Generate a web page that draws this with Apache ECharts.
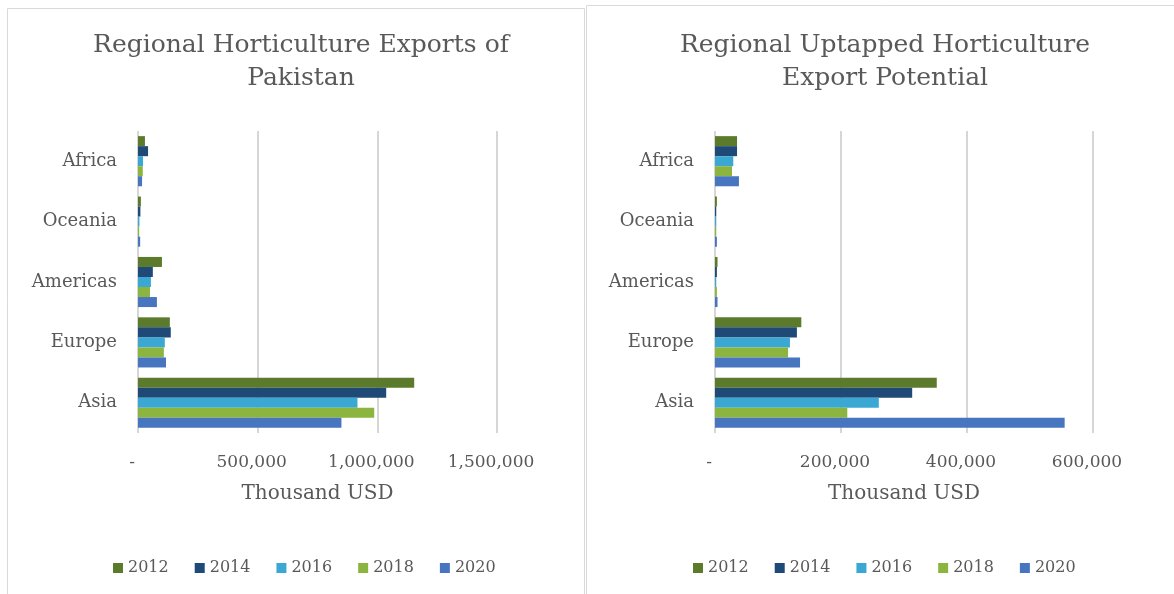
<!DOCTYPE html>
<html>
<head>
<meta charset="utf-8">
<script src="https://cdn.jsdelivr.net/npm/echarts@6/dist/echarts.min.js"></script>
<style>
html,body{margin:0;padding:0;background:#fff;}
#c{width:1174px;height:594px;}
</style>
</head>
<body>
<div id="c"></div>
<script>
// Categories (top to bottom as shown)
const categories = ['Africa', 'Oceania', 'Americas', 'Europe', 'Asia'];
const years = ['2012', '2014', '2016', '2018', '2020'];

// Left chart: Regional Horticulture Exports of Pakistan (Thousand USD)
const exports2012 = [29000, 12000, 100000, 133000, 1154000];
const exports2014 = [42000, 10000, 62000, 137000, 1037000];
const exports2016 = [21000, 6000, 54000, 112000, 917000];
const exports2018 = [20000, 5000, 50000, 108000, 987000];
const exports2020 = [17000, 9000, 79000, 117000, 850000];

// Right chart: Regional Untapped Horticulture Export Potential (Thousand USD)
const potential2012 = [35000, 3000, 4000, 137000, 352000];
const potential2014 = [35000, 2000, 3000, 130000, 313000];
const potential2016 = [29000, 2000, 2000, 119000, 260000];
const potential2018 = [27000, 2000, 3000, 116000, 210000];
const potential2020 = [38000, 3000, 4000, 135000, 555000];

const leftTicks = {min: 0, max: 1500000, interval: 500000};
const rightTicks = {min: 0, max: 600000, interval: 200000};

const colors = ['#5b7a2c', '#1f4a78', '#3aa8d2', '#8cb53f', '#4775c0'];
const FONT = '"DejaVu Serif", "Liberation Serif", serif';
const TXT = '#595959';

const leftData = [exports2012, exports2014, exports2016, exports2018, exports2020];
const rightData = [potential2012, potential2014, potential2016, potential2018, potential2020];

function fmt(v){ return v === 0 ? '-' : v.toLocaleString('en-US'); }

function xAxisFor(idx, ticks){
  return {
    type: 'value', gridIndex: idx, min: ticks.min, max: ticks.max, interval: ticks.interval,
    name: 'Thousand USD', nameLocation: 'middle', nameGap: 51,
    nameTextStyle: {fontFamily: FONT, fontSize: 20, color: TXT},
    axisLine: {show: false}, axisTick: {show: false},
    axisLabel: {formatter: fmt, fontFamily: FONT, fontSize: 17, color: TXT, margin: 21,
                padding: [0, 12, 0, 0]},
    splitLine: {show: true, lineStyle: {color: '#d6d6d6', width: 2}}
  };
}
function yAxisFor(idx){
  return {
    type: 'category', gridIndex: idx, data: categories, inverse: true,
    axisLine: {show: false}, axisTick: {show: false},
    axisLabel: {fontFamily: FONT, fontSize: 18, color: TXT, margin: 21, padding: [6, 0, 0, 0]}
  };
}

const series = [];
years.forEach((y, i) => {
  series.push({name: y, type: 'bar', xAxisIndex: 0, yAxisIndex: 0, data: leftData[i],
    itemStyle: {color: colors[i]}, barCategoryGap: '17%', barGap: '0%'});
});
years.forEach((y, i) => {
  series.push({name: y, type: 'bar', xAxisIndex: 1, yAxisIndex: 1, data: rightData[i],
    itemStyle: {color: colors[i]}, barCategoryGap: '17%', barGap: '0%'});
});

const chart = echarts.init(document.getElementById('c'), null, {renderer: 'canvas'});
chart.setOption({
  backgroundColor: '#ffffff',
  animation: false,
  color: colors,
  graphic: [
    {type: 'rect', shape: {x: 7.5, y: 8.5, width: 577, height: 600}, style: {fill: 'none', stroke: '#d9d9d9', lineWidth: 1}, z: -10},
    {type: 'rect', shape: {x: 586.5, y: 5.5, width: 600, height: 600}, style: {fill: 'none', stroke: '#d9d9d9', lineWidth: 1}, z: -10}
  ],
  title: [
    {text: 'Regional Horticulture Exports of\nPakistan', left: 296, top: 24, textAlign: 'center',
     textStyle: {fontFamily: FONT, fontSize: 25, fontWeight: 'normal', color: TXT, lineHeight: 33}},
    {text: 'Regional Uptapped Horticulture\nExport Potential', left: 880, top: 24, textAlign: 'center',
     textStyle: {fontFamily: FONT, fontSize: 25, fontWeight: 'normal', color: TXT, lineHeight: 33}}
  ],
  legend: [
    {data: years, left: 108, top: 555, itemWidth: 10, itemHeight: 10, itemGap: 26, icon: 'rect',
     textStyle: {fontFamily: FONT, fontSize: 16, color: TXT}, selectedMode: false},
    {data: years, left: 688, top: 555, itemWidth: 10, itemHeight: 10, itemGap: 26, icon: 'rect',
     textStyle: {fontFamily: FONT, fontSize: 16, color: TXT}, selectedMode: false}
  ],
  grid: [
    {left: 138, top: 131, width: 359, height: 302},
    {left: 715, top: 131, width: 378, height: 302}
  ],
  xAxis: [xAxisFor(0, leftTicks), xAxisFor(1, rightTicks)],
  yAxis: [yAxisFor(0), yAxisFor(1)],
  series: series
});
</script>
</body>
</html>
